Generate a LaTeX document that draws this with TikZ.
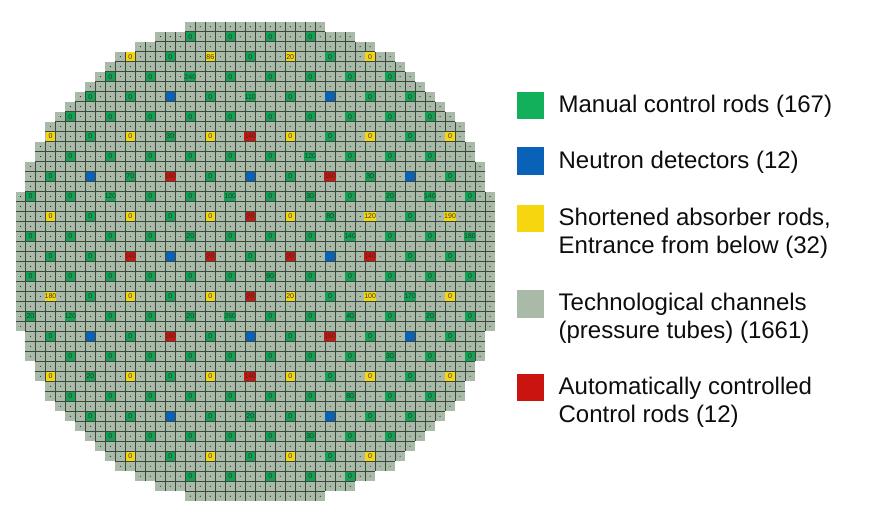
\documentclass[tikz,border=0pt]{standalone}
\usepackage{fontspec}
\setmainfont{Liberation Sans}
\usetikzlibrary{positioning}
\definecolor{channelbg}{HTML}{A9BAA8}
\definecolor{gridline}{HTML}{3C473D}
\definecolor{manualgreen}{HTML}{12B05A}
\definecolor{detectblue}{HTML}{0A62B8}
\definecolor{shortyellow}{HTML}{F5D60F}
\definecolor{autored}{HTML}{C9140F}
\tikzset{
  rod/.style={minimum size=9.4pt, inner sep=0pt, text=black!80, font=\fontsize{7}{7}\selectfont},
  manualrod/.style={rod, fill=manualgreen!92!black},
  detectrod/.style={rod, fill=detectblue},
  shortrod/.style={rod, fill=shortyellow},
  autorod/.style={rod, fill=autored},
  legbox/.style={minimum size=27.3pt, inner sep=0pt},
  legtext/.style={inner sep=0pt, align=left, text=black!95, font=\fontsize{24}{28.3}\selectfont},
  gridln/.style={gridline, line width=0.95pt},
}
\begin{document}
\begin{tikzpicture}[x=1pt, y=-1pt]
  \useasboundingbox (0,0) rectangle (876,521);
  \begin{scope}[shift={(15.5,21.7)}, x=9.99pt, y=-9.99pt]
    % channels, row by row
    \foreach \r/\s [remember=\s as \p (initially 17)] in
      {0/17,1/14,2/12,3/10,4/9,5/8,6/7,7/6,8/5,9/4,10/3,11/3,12/2,13/2,14/1,15/1,
       16/1,17/0,18/0,19/0,20/0,21/0,22/0,23/0,24/0,25/0,26/0,27/0,28/0,29/0,30/0,
       31/1,32/1,33/1,34/2,35/2,36/3,37/3,38/4,39/5,40/6,41/7,42/8,43/9,44/10,45/12,
       46/14,47/17} {
      \pgfmathtruncatemacro\e{47-\s}
      \pgfmathtruncatemacro\w{48-\s}
      \pgfmathtruncatemacro\first{\s+1}
      \pgfmathtruncatemacro\m{max(\s,\p)}
      \pgfmathtruncatemacro\n{48-\m}
      \fill[channelbg] (\s,\r) rectangle (\w,\r+1);
      \foreach \c in {\first,...,\e} \draw[gridln] (\c,\r) -- (\c,\r+1);
      \ifnum\r>0 \draw[gridln] (\m,\r) -- (\n,\r); \fi
      \foreach \c in {\s,...,\e} \fill[black!85] (\c+0.5,\r+0.5) circle (0.6pt);
    }
    % manual control rods
    \foreach \r/\rods in {
      1/{17/0,21/0,25/0,29/0},
      3/{15/0,23/0,31/0},
      5/{9/0,13/0,17/240,21/0,25/0,29/0,33/0,37/0},
      7/{7/0,11/0,19/0,23/110,27/0,35/0,39/0},
      9/{5/0,9/0,13/0,17/0,21/0,25/0,29/0,33/0,37/0,41/0},
      11/{7/0,15/30,31/0,39/0},
      13/{5/0,9/0,13/0,17/0,21/0,25/0,29/120,33/0,37/0,41/0},
      15/{3/0,11/70,19/0,27/0,35/30,43/0},
      17/{1/0,5/0,9/120,13/0,17/0,21/100,25/0,29/30,33/0,37/20,41/140,45/0},
      19/{7/0,15/0,31/80,39/0},
      21/{1/0,5/0,9/0,13/0,17/20,21/0,25/0,29/0,33/140,37/0,41/0,45/180},
      23/{3/0,7/0,23/0,39/0,43/0},
      25/{1/0,5/0,9/0,13/0,17/0,21/0,25/90,29/0,33/0,37/0,41/0,45/0},
      27/{7/0,15/0,31/0,39/170},
      29/{1/20,5/120,9/0,13/0,17/20,21/260,25/0,29/0,33/40,37/0,41/20,45/0},
      31/{3/0,11/0,19/0,27/0,35/0,43/0},
      33/{5/0,9/0,13/0,17/0,21/0,25/0,29/0,33/0,37/30,41/0,45/0},
      35/{7/20,15/0,31/0,39/0},
      37/{5/0,9/0,13/0,17/0,21/0,25/0,29/0,33/80,37/0,41/0},
      39/{7/0,11/0,19/0,23/20,27/0,35/0,39/0},
      41/{9/0,13/0,17/0,21/0,25/0,29/30,33/0,37/0},
      43/{15/0,23/0,31/0},
      45/{17/0,21/0,25/0,29/0,33/0}}
      \foreach \c/\v in \rods
        \node[manualrod] (rod-\r-\c) at (\c+0.5,\r+0.5) {\v};
    % neutron detectors
    \foreach \r/\c in {7/15,7/31,15/7,15/23,15/39,23/15,23/31,31/7,31/23,31/39,39/15,39/31}
      \node[detectrod] (rod-\r-\c) at (\c+0.5,\r+0.5) {};
    % shortened absorber rods
    \foreach \r/\c/\v in {3/11/0,3/19/86,3/27/20,3/35/0,
      11/3/0,11/11/0,11/19/0,11/27/0,11/35/0,11/43/0,
      19/3/0,19/11/0,19/19/0,19/27/0,19/35/120,19/43/190,
      27/3/180,27/11/0,27/19/0,27/27/20,27/35/100,27/43/0,
      35/3/0,35/11/0,35/19/0,35/27/0,35/35/0,35/43/0,
      43/11/0,43/19/0,43/27/0,43/35/0}
      \node[shortrod] (rod-\r-\c) at (\c+0.5,\r+0.5) {\v};
    % automatically controlled rods
    \foreach \r/\c/\v in {11/23/140,15/15/160,15/31/160,19/23/20,23/11/140,23/19/20,
      23/27/20,23/35/140,27/23/20,31/15/160,31/31/160,35/23/140}
      \node[autorod] (rod-\r-\c) at (\c+0.5,\r+0.5) {\v};
  \end{scope}

  % legend
  \node[legbox, fill=manualgreen] (manual) at (530.6,105.6) {};
  \node[legbox, fill=detectblue, below=27.7pt of manual] (detector) {};
  \node[legbox, fill=shortyellow, below=30pt of detector] (shortened) {};
  \node[legbox, fill=channelbg, below=57.7pt of shortened] (channel) {};
  \node[legbox, fill=autored, below=55.7pt of channel] (automatic) {};

  \node[legtext, below right=3.4pt and 14pt of manual.north east] (manualtxt) {Manual control rods (167)};
  \node[legtext, below right=3.7pt and 14pt of detector.north east] (detectortxt) {Neutron detectors (12)};
  \node[legtext, below right=2.6pt and 14pt of shortened.north east] (shortenedtxt) {Shortened absorber rods,\\Entrance from below (32)};
  \node[legtext, below right=2.2pt and 14pt of channel.north east] (channeltxt) {Technological channels\\(pressure tubes) (1661)};
  \node[legtext, below right=3pt and 14pt of automatic.north east] (automatictxt) {Automatically controlled\\Control rods (12)};
\end{tikzpicture}
\end{document}
